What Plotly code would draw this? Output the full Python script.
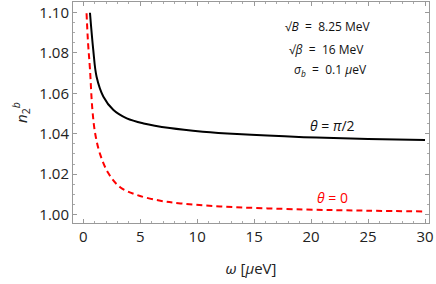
import plotly.graph_objects as go

# black curve: theta = pi/2
omega_perp = [0.59, 0.88, 1.17, 1.77, 2.65, 3.82, 5.30, 7.6, 10.5, 13.5, 19.35, 25.0, 30.0]
n_perp = [1.0999, 1.0814, 1.0682, 1.0583, 1.0517, 1.0476, 1.0451, 1.0428, 1.0410, 1.0398, 1.0383, 1.0374, 1.0369]

# red dashed curve: theta = 0
omega_par = [0.29, 0.42, 0.59, 0.80, 1.05, 1.47, 2.21, 3.24, 4.7, 6.77, 8.53, 12.0, 19.35, 25.0, 30.0]
n_par = [1.0996, 1.0850, 1.0720, 1.0520, 1.0400, 1.0300, 1.0204, 1.0135, 1.0097, 1.0068, 1.0055, 1.0040, 1.0025, 1.0019, 1.0015]

theta_labels = ["<i>θ</i> = <i>π</i>/2", "<i>θ</i> = 0"]
param_labels = ["√<i>B</i>  =  8.25 MeV", "√<i>β</i>  =  16 MeV", "<i>σ<sub>b</sub></i>  =  0.1 <i>μ</i>eV"]

fig = go.Figure()
fig.add_trace(go.Scatter(x=omega_perp, y=n_perp, mode="lines",
                         line=dict(color="black", width=2, shape="spline", smoothing=1.0), showlegend=False))
fig.add_trace(go.Scatter(x=omega_par, y=n_par, mode="lines",
                         line=dict(color="#ff0000", width=2, dash="6px,4px", shape="spline", smoothing=1.0), showlegend=False))

FONT = "Open Sans"
tickfont = dict(family=FONT, size=15, color="#222")
axis_common = dict(showline=True, linecolor="#999", linewidth=1, mirror="ticks", ticks="inside",
                   tickcolor="#999", ticklen=4, showgrid=False, zeroline=False, tickfont=tickfont,
                   automargin=False, ticklabeloverflow="allow")
fig.update_xaxes(range=[-0.9, 30.35], dtick=5, tick0=0,
                 minor=dict(dtick=1, ticks="inside", ticklen=2, tickcolor="#aaa"),
                 title=dict(text="<i>ω</i> [<i>μ</i>eV]", font=dict(family=FONT, size=15, color="#222"), standoff=18),
                 **axis_common)
fig.update_yaxes(range=[0.9958, 1.1052], dtick=0.02, tick0=1.0, tickformat=".2f",
                 minor=dict(dtick=0.005, ticks="inside", ticklen=2, tickcolor="#aaa"),
                 title=dict(text="<i>n</i><sub>2</sub><sup><i>b</i></sup>", font=dict(family=FONT, size=15, color="#222"), standoff=8),
                 **axis_common)

fig.add_annotation(x=21.9, y=1.0443, xref="x", yref="y", text=theta_labels[0], showarrow=False,
                   font=dict(family=FONT, size=14, color="#111"))
fig.add_annotation(x=21.9, y=1.0082, xref="x", yref="y", text=theta_labels[1], showarrow=False,
                   font=dict(family=FONT, size=14, color="#ff0000"))
ann_font = dict(family=FONT, size=12, color="#111")
for txt, xp, yp in zip(param_labels, [0.716, 0.711, 0.722], [0.887, 0.783, 0.692]):
    fig.add_annotation(x=xp, y=yp, xref="paper", yref="paper", text=txt, showarrow=False,
                       xanchor="center", yanchor="middle", font=ann_font)

fig.update_layout(width=436, height=284, margin=dict(l=73, r=7, t=2, b=61),
                  plot_bgcolor="white", paper_bgcolor="white")
fig.write_html("out.html", config={"displayModeBar": False},
               post_script="document.body.style.margin='0';document.body.style.padding='0';")
